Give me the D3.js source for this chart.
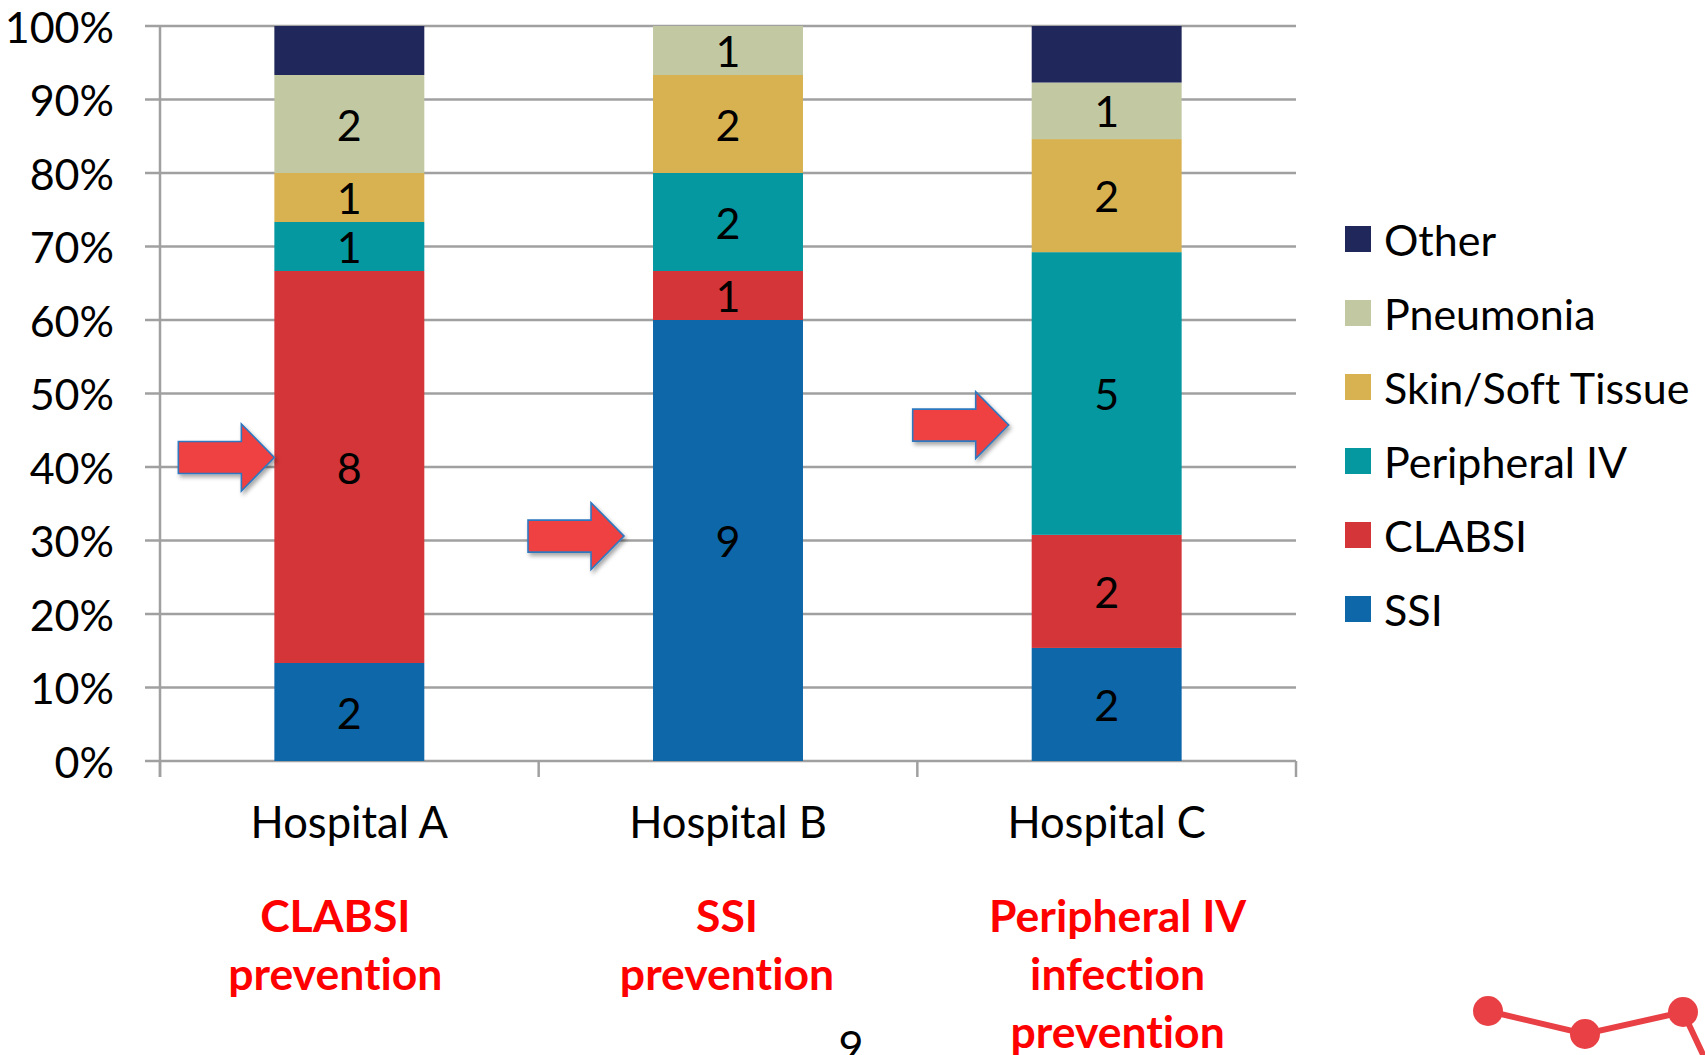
<!DOCTYPE html>
<html>
<head>
<meta charset="utf-8">
<script src="https://cdn.jsdelivr.net/npm/d3@7"></script>
<style>
  html, body { margin: 0; padding: 0; background: #ffffff; }
  svg { display: block; }
  text { font-family: Lato, "Open Sans", sans-serif; font-variant-ligatures: none; }
</style>
</head>
<body>
<svg id="chart" width="1705" height="1055"></svg>
<script>
// Infection counts per hospital, stacked bottom to top
const hospitals = ["Hospital A", "Hospital B", "Hospital C"];
const infectionTypes = ["SSI", "CLABSI", "Peripheral IV", "Skin/Soft Tissue", "Pneumonia", "Other"];
const ssi          = [2, 9, 2];
const clabsi       = [8, 1, 2];
const peripheralIV = [1, 2, 5];
const skinSoft     = [1, 2, 2];
const pneumonia    = [2, 1, 1];
const other        = [1, 0, 1];
const typeColors   = ["#0e67a8", "#d33538", "#0598a0", "#d8b250", "#c2c8a2", "#20275a"];
const labelledTypes = ["SSI", "CLABSI", "Peripheral IV", "Skin/Soft Tissue", "Pneumonia"];
const percentTicks = [0, 0.1, 0.2, 0.3, 0.4, 0.5, 0.6, 0.7, 0.8, 0.9, 1.0];

// Prevention focus chosen for each hospital, with arrow pointing at that segment
const focusLines = [["CLABSI", "prevention"], ["SSI", "prevention"], ["Peripheral IV", "infection", "prevention"]];
const focusShift = [-14, -1, 11];
const arrowLevel = [0.413, 0.306, 0.457];
const arrowGap   = [0, 29, 23];

const seriesValues = [ssi, clabsi, peripheralIV, skinSoft, pneumonia, other];
const rows = hospitals.map((h, i) => {
  const r = { hospital: h };
  infectionTypes.forEach((t, k) => { r[t] = seriesValues[k][i]; });
  return r;
});

const svg = d3.select("#chart");
const plotLeft = 160, plotRight = 1296, plotTop = 26, plotBottom = 761;

const x = d3.scaleBand().domain(hospitals).range([plotLeft, plotRight])
  .paddingInner(0.604).paddingOuter(0.302);
const y = d3.scaleLinear().domain([0, 1]).range([plotBottom, plotTop]);
const color = d3.scaleOrdinal().domain(infectionTypes).range(typeColors);

const stacked = d3.stack().keys(infectionTypes).offset(d3.stackOffsetExpand)(rows);

const gridColor = "#a0a0a0";

// Horizontal gridlines with left tick stubs
svg.append("g").selectAll("line").data(percentTicks).join("line")
  .attr("x1", plotLeft - 15).attr("x2", plotRight)
  .attr("y1", d => y(d)).attr("y2", d => y(d))
  .attr("stroke", gridColor).attr("stroke-width", 2.5);

// Percent labels
svg.append("g").selectAll("text").data(percentTicks).join("text")
  .attr("x", 114).attr("y", d => y(d))
  .attr("text-anchor", "end").attr("dominant-baseline", "central")
  .attr("font-size", 43).attr("fill", "#000")
  .text(d3.format(".0%"));

// Vertical axis line and category separators
svg.append("line").attr("x1", plotLeft).attr("x2", plotLeft).attr("y1", plotTop).attr("y2", plotBottom + 16)
  .attr("stroke", gridColor).attr("stroke-width", 2.5);
const sepPositions = hospitals.map(h => x(h) - x.step() * x.paddingOuter()).concat([plotRight]);
svg.append("g").selectAll("line").data(sepPositions).join("line")
  .attr("x1", d => d).attr("x2", d => d).attr("y1", plotBottom).attr("y2", plotBottom + 16)
  .attr("stroke", gridColor).attr("stroke-width", 2.5);

// Stacked bars
const layers = svg.append("g").selectAll("g").data(stacked).join("g")
  .attr("fill", d => color(d.key));
layers.selectAll("rect").data(d => d.map(s => ({ key: d.key, s }))).join("rect")
  .attr("x", d => x(d.s.data.hospital))
  .attr("width", x.bandwidth())
  .attr("y", d => y(d.s[1]))
  .attr("height", d => y(d.s[0]) - y(d.s[1]));

// Count labels inside segments
const labelData = [];
stacked.forEach(layer => {
  if (!labelledTypes.includes(layer.key)) return;
  layer.forEach(s => {
    const v = s.data[layer.key];
    if (v > 0) labelData.push({ hospital: s.data.hospital, mid: (s[0] + s[1]) / 2, v });
  });
});
svg.append("g").selectAll("text").data(labelData).join("text")
  .attr("x", d => x(d.hospital) + x.bandwidth() / 2)
  .attr("y", d => y(d.mid))
  .attr("text-anchor", "middle").attr("dominant-baseline", "central")
  .attr("font-size", 43).attr("fill", "#000")
  .text(d => d.v);

// Category labels
svg.append("g").selectAll("text").data(hospitals).join("text")
  .attr("x", d => x(d) + x.bandwidth() / 2)
  .attr("y", 838)
  .attr("text-anchor", "middle")
  .attr("font-size", 43.5).attr("fill", "#000")
  .text(d => d);

// Legend (top of stack listed first)
const legendTypes = infectionTypes.slice().reverse();
const legend = svg.append("g").selectAll("g").data(legendTypes).join("g")
  .attr("transform", (d, i) => `translate(1345, ${239 + i * 74})`);
legend.append("rect").attr("x", 0).attr("y", -13).attr("width", 26).attr("height", 26)
  .attr("fill", d => color(d));
legend.append("text").attr("x", 39).attr("y", 0)
  .attr("dominant-baseline", "central")
  .attr("font-size", 43).attr("fill", "#000")
  .text(d => d);

// Drop shadow for arrows
const defs = svg.append("defs");
const shadow = defs.append("filter").attr("id", "arrowShadow")
  .attr("x", "-20%").attr("y", "-20%").attr("width", "150%").attr("height", "150%");
shadow.append("feDropShadow").attr("dx", 2).attr("dy", 3).attr("stdDeviation", 2)
  .attr("flood-color", "#000").attr("flood-opacity", 0.35);

// Block arrows pointing at each hospital's focus segment
const arrowPath = (tx, ty) => {
  const len = 96, headLen = 33, bodyH = 32, headH = 67;
  const bx = tx - len, hx = tx - headLen;
  return `M${bx},${ty - bodyH / 2} L${hx},${ty - bodyH / 2} L${hx},${ty - headH / 2} ` +
         `L${tx},${ty} L${hx},${ty + headH / 2} L${hx},${ty + bodyH / 2} L${bx},${ty + bodyH / 2} Z`;
};
svg.append("g").selectAll("path").data(hospitals).join("path")
  .attr("d", (h, i) => arrowPath(x(h) - arrowGap[i], y(arrowLevel[i])))
  .attr("fill", "#ef4043").attr("stroke", "#2f78c0").attr("stroke-width", 1.6)
  .attr("stroke-linejoin", "miter")
  .attr("filter", "url(#arrowShadow)");

// Red focus captions under each hospital
const captions = svg.append("g").selectAll("text").data(hospitals).join("text")
  .attr("x", (h, i) => x(h) + x.bandwidth() / 2 + focusShift[i])
  .attr("text-anchor", "middle")
  .attr("font-size", 44.5).attr("font-weight", "bold").attr("fill", "#ff0000");
captions.selectAll("tspan").data((h, i) => focusLines[i]).join("tspan")
  .attr("x", function () { return this.parentNode.getAttribute("x"); })
  .attr("y", (d, j) => 932 + j * 58)
  .text(d => d);

// Slide page number
svg.append("text").attr("x", 851).attr("y", 1062).attr("text-anchor", "middle")
  .attr("font-size", 43).attr("fill", "#000").text("9");

// Corner ornament: red polyline with dots
const ornament = [[1488, 1011], [1585, 1034], [1683, 1012], [1715, 1080]];
svg.append("path").attr("d", d3.line()(ornament))
  .attr("fill", "none").attr("stroke", "#e84045").attr("stroke-width", 6);
svg.append("g").selectAll("circle").data(ornament.slice(0, 3)).join("circle")
  .attr("cx", d => d[0]).attr("cy", d => d[1]).attr("r", 15)
  .attr("fill", "#e84045");
</script>
</body>
</html>
